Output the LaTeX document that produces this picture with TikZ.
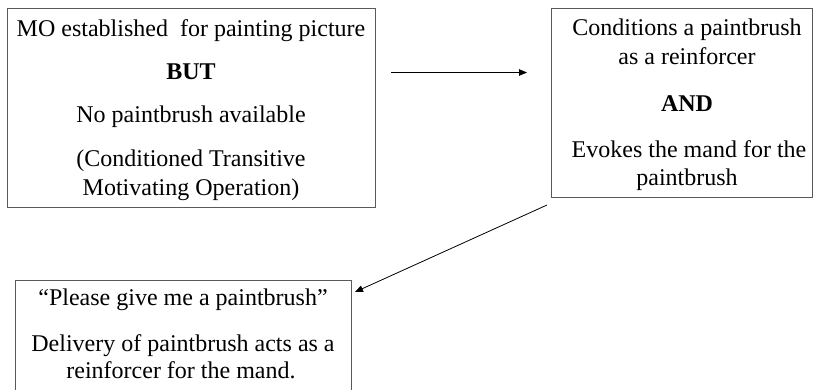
\documentclass[tikz,border=0pt]{standalone}
\usepackage{fontspec}
\setmainfont{Liberation Serif}
\usetikzlibrary{arrows.meta}
\begin{document}
\begin{tikzpicture}[x=1bp,y=-1bp,
  box/.style={draw=black!65,line width=0.9bp,inner sep=0pt,rectangle},
  txt/.style={anchor=base,inner sep=0pt,font=\fontsize{24bp}{28bp}\selectfont},
  btxt/.style={anchor=base,inner sep=0pt,font=\fontsize{24bp}{28bp}\selectfont\bfseries},
  conn/.style={-{Triangle[length=8bp,width=6.5bp]},line width=0.8bp,draw=black}]
\useasboundingbox (0,0) rectangle (813,389);
% boxes
\node[box,minimum width=368bp,minimum height=199bp] (boxA) at (191,107.5) {};
\node[box,minimum width=261bp,minimum height=189bp] (boxB) at (681.5,102.5) {};
\node[box,minimum width=336bp,minimum height=140bp] (boxC) at (183,350) {};
% box A text
\node[txt] (a1) at (191,36) {MO established~~for painting picture};
\node[btxt] (a2) at (191,79) {BUT};
\node[txt] (a3) at (191,122) {No paintbrush available};
\node[txt] (a4) at (191,166) {(Conditioned Transitive};
\node[txt] (a5) at (191,195) {Motivating Operation)};
% box B text
\node[txt] (b1) at (687,35) {Conditions a paintbrush};
\node[txt] (b2) at (687,64) {as a reinforcer};
\node[btxt] (b3) at (687,111) {AND};
\node[txt] (b4) at (689,157) {Evokes the mand for the};
\node[txt] (b5) at (687,185) {paintbrush};
% box C text
\node[txt] (c1) at (183,305) {“Please give me a paintbrush”};
\node[txt] (c2) at (183,351) {Delivery of paintbrush acts as a};
\node[txt] (c3) at (181,378) {reinforcer for the mand.};
% connectors
\coordinate (a1s) at (391,72.5);
\coordinate (a1e) at (527,72.5);
\coordinate (a2s) at (547,205);
\coordinate (a2e) at (355,292);
\draw[conn] (a1s) -- (a1e);
\draw[conn] (a2s) -- (a2e);
\end{tikzpicture}
\end{document}
